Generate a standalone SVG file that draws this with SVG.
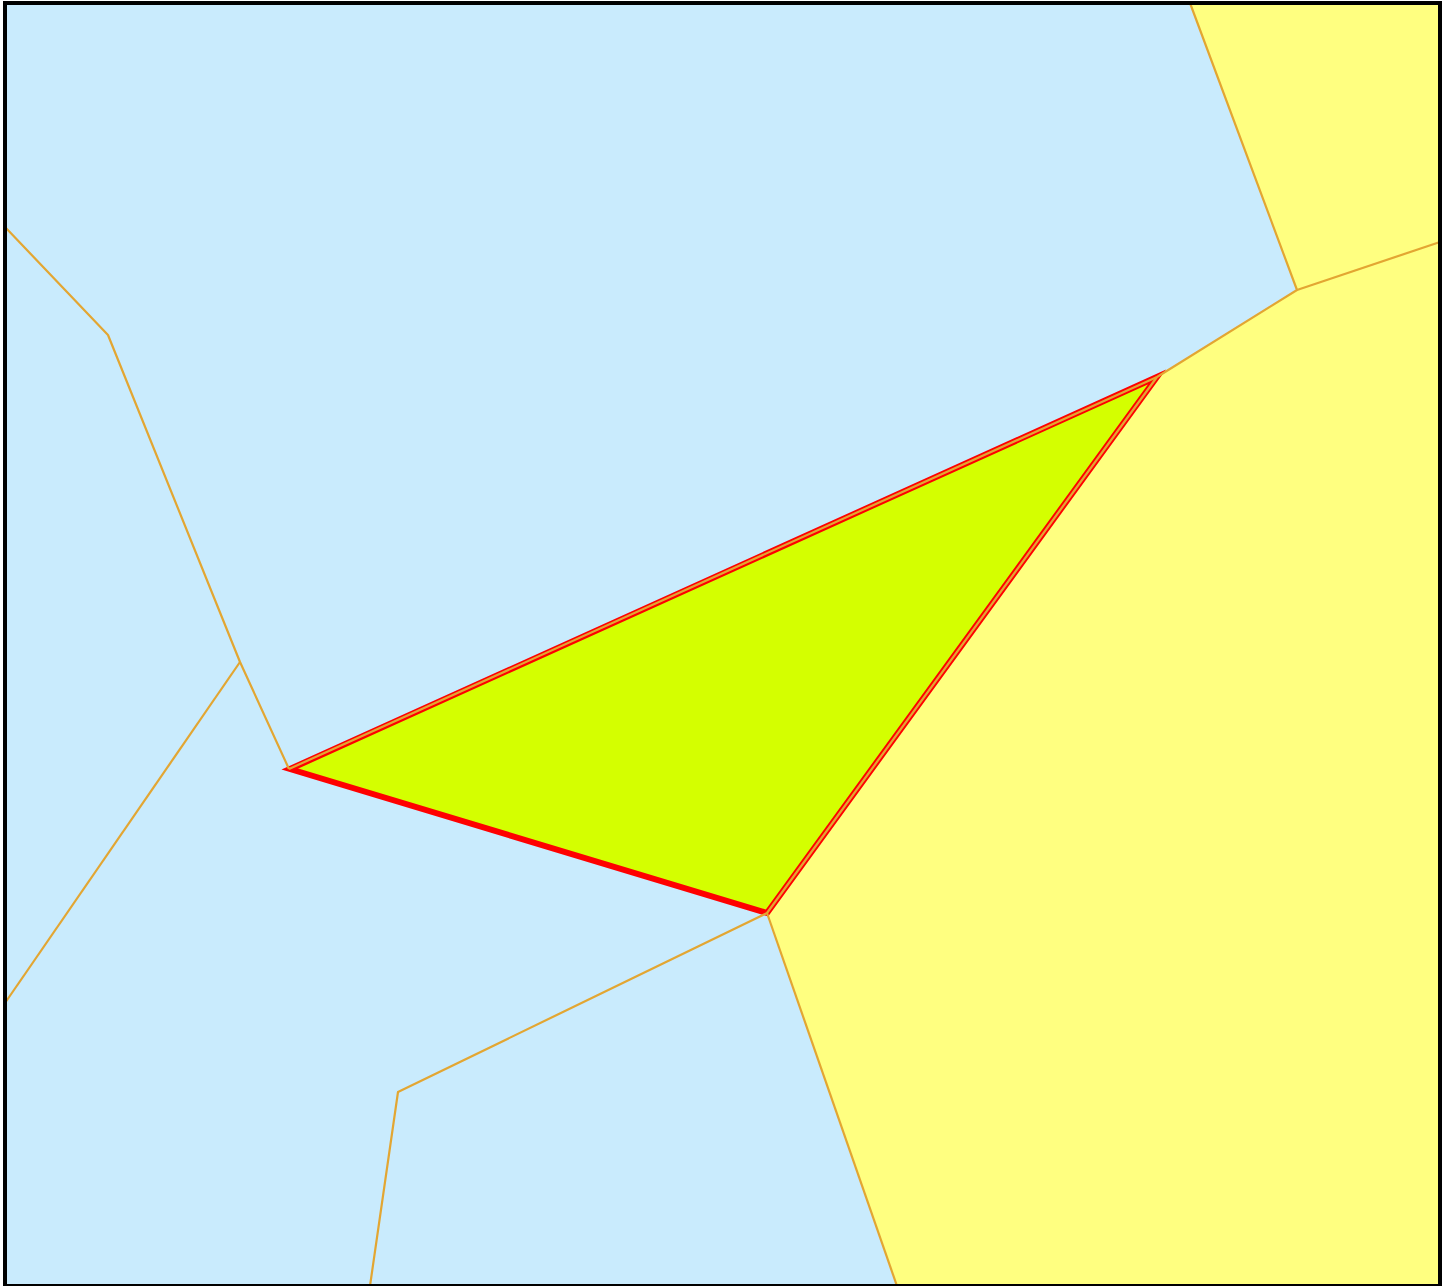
<svg xmlns="http://www.w3.org/2000/svg" width="1453" height="1286" viewBox="0 0 1453 1286">
<style>
.blue{fill:#C9EBFD}
.yellow{fill:#FFFF80}
.edge{fill:none;stroke:#E3A632;stroke-width:2.2;stroke-linejoin:round}
.tri{fill:#D4FF00;stroke:#FF0000;stroke-width:6;stroke-linejoin:miter;stroke-miterlimit:4}
</style>
<rect x="0" y="0" width="1453" height="1286" fill="#ffffff"/>
<g id="cells">
<rect class="blue" x="5" y="3" width="1435" height="1283"/>
<polygon id="cell-top-right" class="yellow" points="1190,3 1440,3 1440,242 1297,290"/>
<polygon id="cell-right" class="yellow" points="1157,377 1297,290 1440,242 1440,1286 897,1286 767,913"/>
</g>
<g id="triangle">
<polygon class="tri" points="290,769 1157,377 767,913"/>
</g>
<g id="edges">
<polyline class="edge" points="5,227 108,335 240,662 289,769"/>
<polyline class="edge" points="240,662 5,1003"/>
<polyline class="edge" points="289,769 1157,377 1297,290 1190,3"/>
<polyline class="edge" points="1297,290 1440,242"/>
<polyline class="edge" points="1157,377 767,913 398,1092 370,1286"/>
<polyline class="edge" points="767,913 897,1286"/>
</g>
<rect x="5" y="3" width="1435" height="1283" fill="none" stroke="#000000" stroke-width="4"/>
</svg>
